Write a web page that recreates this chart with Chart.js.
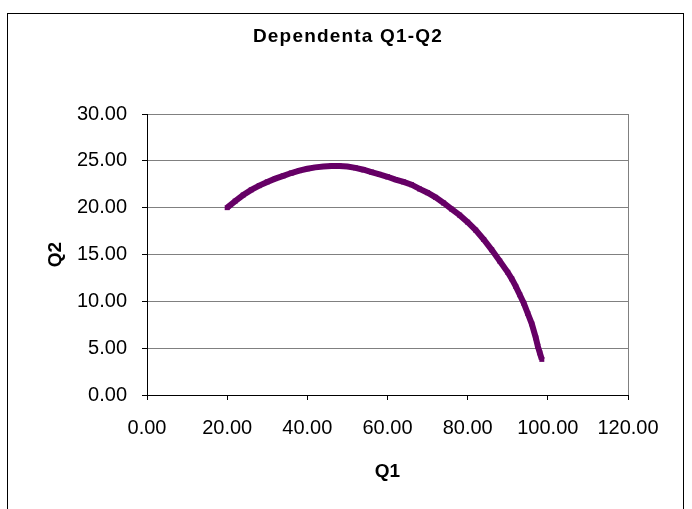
<!DOCTYPE html>
<html lang="ro">
<head>
<meta charset="UTF-8">
<title>Dependenta Q1-Q2</title>
<style>
  html, body { margin: 0; padding: 0; background: #fff; }
  #frame {
    position: absolute; left: 7px; top: 13px;
    width: 675px; height: 520px;
    border: 1px solid #000;
  }
  #chart { position: absolute; left: 0; top: 0; }
</style>
</head>
<body>
<div id="frame"></div>
<canvas id="chart" width="692" height="509"></canvas>

<script src="https://cdn.jsdelivr.net/npm/chart.js@4"></script>
<script>
// values
const q1Values = [20, 22, 24, 26, 28, 30, 32, 34, 36, 38, 40, 42, 44, 46, 48, 50,
  52, 54, 56, 58, 60, 62, 64, 66, 68, 70, 72, 74, 76, 78, 80, 82, 84, 86, 88,
  90, 91, 92, 93, 94, 95, 96, 97, 97.5, 98, 98.5];
const q2Values = [20.0, 20.7, 21.35, 21.9, 22.35, 22.75, 23.1, 23.4, 23.7, 23.95,
  24.15, 24.3, 24.4, 24.45, 24.45, 24.4, 24.25, 24.05, 23.8, 23.55, 23.3, 23.0,
  22.75, 22.45, 22.0, 21.6, 21.1, 20.5, 19.85, 19.2, 18.45, 17.6, 16.6, 15.5,
  14.3, 13.1, 12.4, 11.6, 10.7, 9.8, 8.7, 7.6, 6.1, 5.2, 4.5, 3.8];

const points = q1Values.map((x, i) => ({ x: x, y: q2Values[i] }));

Chart.defaults.font.family = '"Liberation Sans", Arial, sans-serif';
Chart.defaults.color = '#000';

// Excel draws the title a bit spaced out; widen only the title block
const spacedTitle = {
  id: 'spacedTitle',
  afterInit(chart) {
    const tb = chart.titleBlock;
    if (!tb) return;
    const draw = tb.draw.bind(tb);
    tb.draw = function () {
      chart.ctx.save();
      chart.ctx.letterSpacing = '1.2px';
      draw();
      chart.ctx.restore();
    };
  }
};

new Chart(document.getElementById('chart'), {
  type: 'scatter',
  data: {
    datasets: [{
      label: 'Q2',
      data: points,
      showLine: true,
      borderColor: '#660066',
      backgroundColor: '#660066',
      borderWidth: 6,
      pointRadius: 3.5,
      pointStyle: 'rect',
      pointBorderWidth: 0
    }]
  },
  options: {
    responsive: false,
    animation: false,
    layout: { padding: { left: 68, right: 64, top: 0, bottom: 20 } },
    plugins: {
      legend: { display: false },
      tooltip: { enabled: false },
      title: {
        display: true,
        text: 'Dependenta Q1-Q2',
        font: { size: 19, weight: 'bold' },
        color: '#000',
        padding: { top: 25, bottom: 66.2 }
      }
    },
    scales: {
      x: {
        type: 'linear',
        min: 0,
        max: 120,
        afterFit: s => { s.height = 94; },
        border: { color: '#000', width: 1 },
        grid: {
          drawOnChartArea: true,
          // only the right edge of the plot area gets a line
          color: c => (c.tick && c.tick.value === 120) ? '#808080' : 'rgba(0,0,0,0)',
          tickColor: '#000',
          tickLength: 5
        },
        ticks: {
          stepSize: 20,
          padding: 16,
          font: { size: 20 },
          maxRotation: 0,
          callback: v => v.toFixed(2)
        },
        title: {
          display: true,
          text: 'Q1',
          font: { size: 19, weight: 'bold' },
          padding: { top: 0, bottom: 6 }
        }
      },
      y: {
        type: 'linear',
        min: 0,
        max: 30,
        afterFit: s => { s.width = 79; },
        border: { color: '#000', width: 1 },
        grid: {
          color: '#808080',
          tickColor: '#000',
          tickLength: 5
        },
        ticks: {
          stepSize: 5,
          padding: 15,
          font: { size: 20 },
          callback: v => v.toFixed(2)
        },
        title: {
          display: true,
          text: 'Q2',
          font: { size: 19, weight: 'bold' },
          padding: { top: -24, bottom: 0 }
        }
      }
    }
  },
  plugins: [spacedTitle]
});
</script>
</body>
</html>
